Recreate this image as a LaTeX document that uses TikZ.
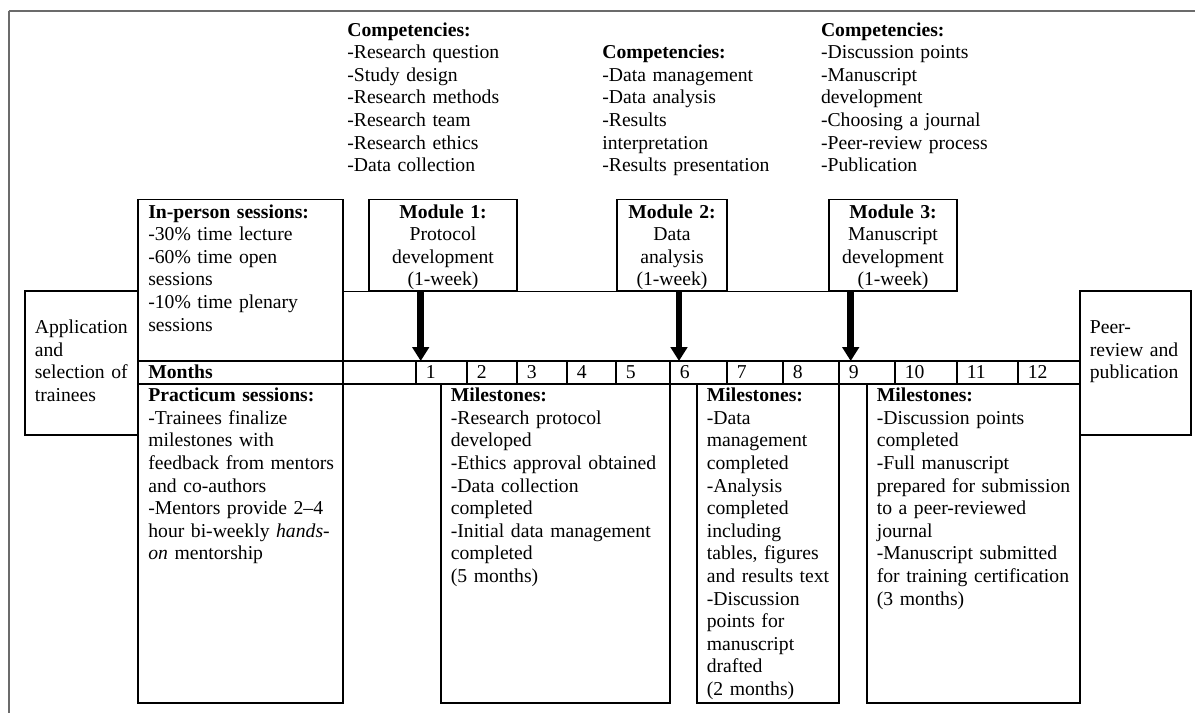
\documentclass[tikz,border=0pt]{standalone}
\usepackage{fontspec}
\setmainfont{Liberation Serif}
\usetikzlibrary{arrows.meta,fit}
\begin{document}
\begin{tikzpicture}[x=0.61pt,y=-0.61pt,
  box/.style={draw=black,line width=0.7pt,inner sep=0pt},
  rule/.style={draw=black,line width=0.7pt},
  txt/.style={anchor=base west,inner sep=0pt,align=left,text width=260pt,font=\fontsize{12pt}{13.8pt}\selectfont},
  ctxt/.style={anchor=base,inner sep=0pt,align=center,text width=120pt,font=\fontsize{12pt}{13.8pt}\selectfont},
  bigarrow/.style={line width=4pt,-{Triangle[length=8.5pt,width=10pt]}},
  frameline/.style={draw=black!58}
]
\useasboundingbox (0,0) rectangle (1195,713);
% outer frame (only top and left edges visible)
\draw[frameline,line width=1.8pt] (8.5,11) -- (1195,11);
\draw[frameline,line width=1.2pt] (9,11) -- (9,713);

% competencies
\node[txt] (comp1) at (347,36) {\textbf{Competencies:}\\-Research question\\-Study design\\-Research methods\\-Research team\\-Research ethics\\-Data collection};
\node[txt] (comp2) at (602,58.6) {\textbf{Competencies:}\\-Data management\\-Data analysis\\-Results\\interpretation\\-Results presentation};
\node[txt] (comp3) at (820.7,36) {\textbf{Competencies:}\\-Discussion points\\-Manuscript\\development\\-Choosing a journal\\-Peer-review process\\-Publication};

% boxes
\node[box,fit={(138,199.5) (343,361)}] (inper) {};
\node[box,fit={(138,361) (343,384)}] (monthlab) {};
\node[box,fit={(138,384) (343,703)}] (pract) {};
\node[box,fit={(25,291) (138,435)}] (app) {};
\node[box,fit={(1080,291) (1191,435)}] (peer) {};
\node[box,fit={(369,199.5) (517,291)}] (m1) {};
\node[box,fit={(617,199.5) (727,291)}] (m2) {};
\node[box,fit={(829,199.5) (957,291)}] (m3) {};
\node[box,fit={(441,384) (670,703)}] (ms1) {};
\node[box,fit={(697,384) (839,703)}] (ms2) {};
\node[box,fit={(867,384) (1080,703)}] (ms3) {};
\draw[rule] (inper.east |- m1.south) -- (m3.south east);

% month cells
\node[box,fit={(343,361) (416,384)}] (mc0) {};
\foreach \n/\l/\r in {1/416/467,2/467/517,3/517/567,4/567/616,5/616/670,6/670/727,7/727/783,8/783/839,9/839/895,10/895/957,11/957/1018,12/1018/1080}{
  \node[box,fit={(\l,361) (\r,384)}] (mc\n) {};
  \node[txt] (ml\n) at (\l+9.5,378.6) {\n};
}

% texts in boxes
\node[txt] (inpertxt) at (148,218) {\textbf{In-person sessions:}\\-30\% time lecture\\-60\% time open\\sessions\\-10\% time plenary\\sessions};
\node[txt] (monthtxt) at (148,378.6) {\textbf{Months}};
\node[txt] (practtxt) at (148,401.5) {\textbf{Practicum sessions:}\\-Trainees finalize\\milestones with\\feedback from mentors\\and co-authors\\-Mentors provide 2–4\\hour bi-weekly \textit{hands-}\\\textit{on} mentorship};
\node[txt] (apptxt) at (34.5,333.4) {Application\\and\\selection of\\trainees};
\node[txt] (peertxt) at (1089.5,333.4) {Peer-\\review and\\publication};
\node[ctxt] (m1txt) at (443,218) {\textbf{Module 1:}\\Protocol\\development\\(1-week)};
\node[ctxt] (m2txt) at (672,218) {\textbf{Module 2:}\\Data\\analysis\\(1-week)};
\node[ctxt] (m3txt) at (893,218) {\textbf{Module 3:}\\Manuscript\\development\\(1-week)};
\node[txt] (ms1txt) at (450.5,401.5) {\textbf{Milestones:}\\-Research protocol\\developed\\-Ethics approval obtained\\-Data collection\\completed\\-Initial data management\\completed\\(5 months)};
\node[txt] (ms2txt) at (706.5,401.5) {\textbf{Milestones:}\\-Data\\management\\completed\\-Analysis\\completed\\including\\tables, figures\\and results text\\-Discussion\\points for\\manuscript\\drafted\\(2 months)};
\node[txt] (ms3txt) at (876.5,401.5) {\textbf{Milestones:}\\-Discussion points\\completed\\-Full manuscript\\prepared for submission\\to a peer-reviewed\\journal\\-Manuscript submitted\\for training certification\\(3 months)};

% arrows
\coordinate (a1) at (420.7,361);
\coordinate (a2) at (679,361);
\coordinate (a3) at (850.7,361);
\draw[bigarrow] (m1.south -| a1) -- (a1);
\draw[bigarrow] (m2.south -| a2) -- (a2);
\draw[bigarrow] (m3.south -| a3) -- (a3);
\end{tikzpicture}
\end{document}
